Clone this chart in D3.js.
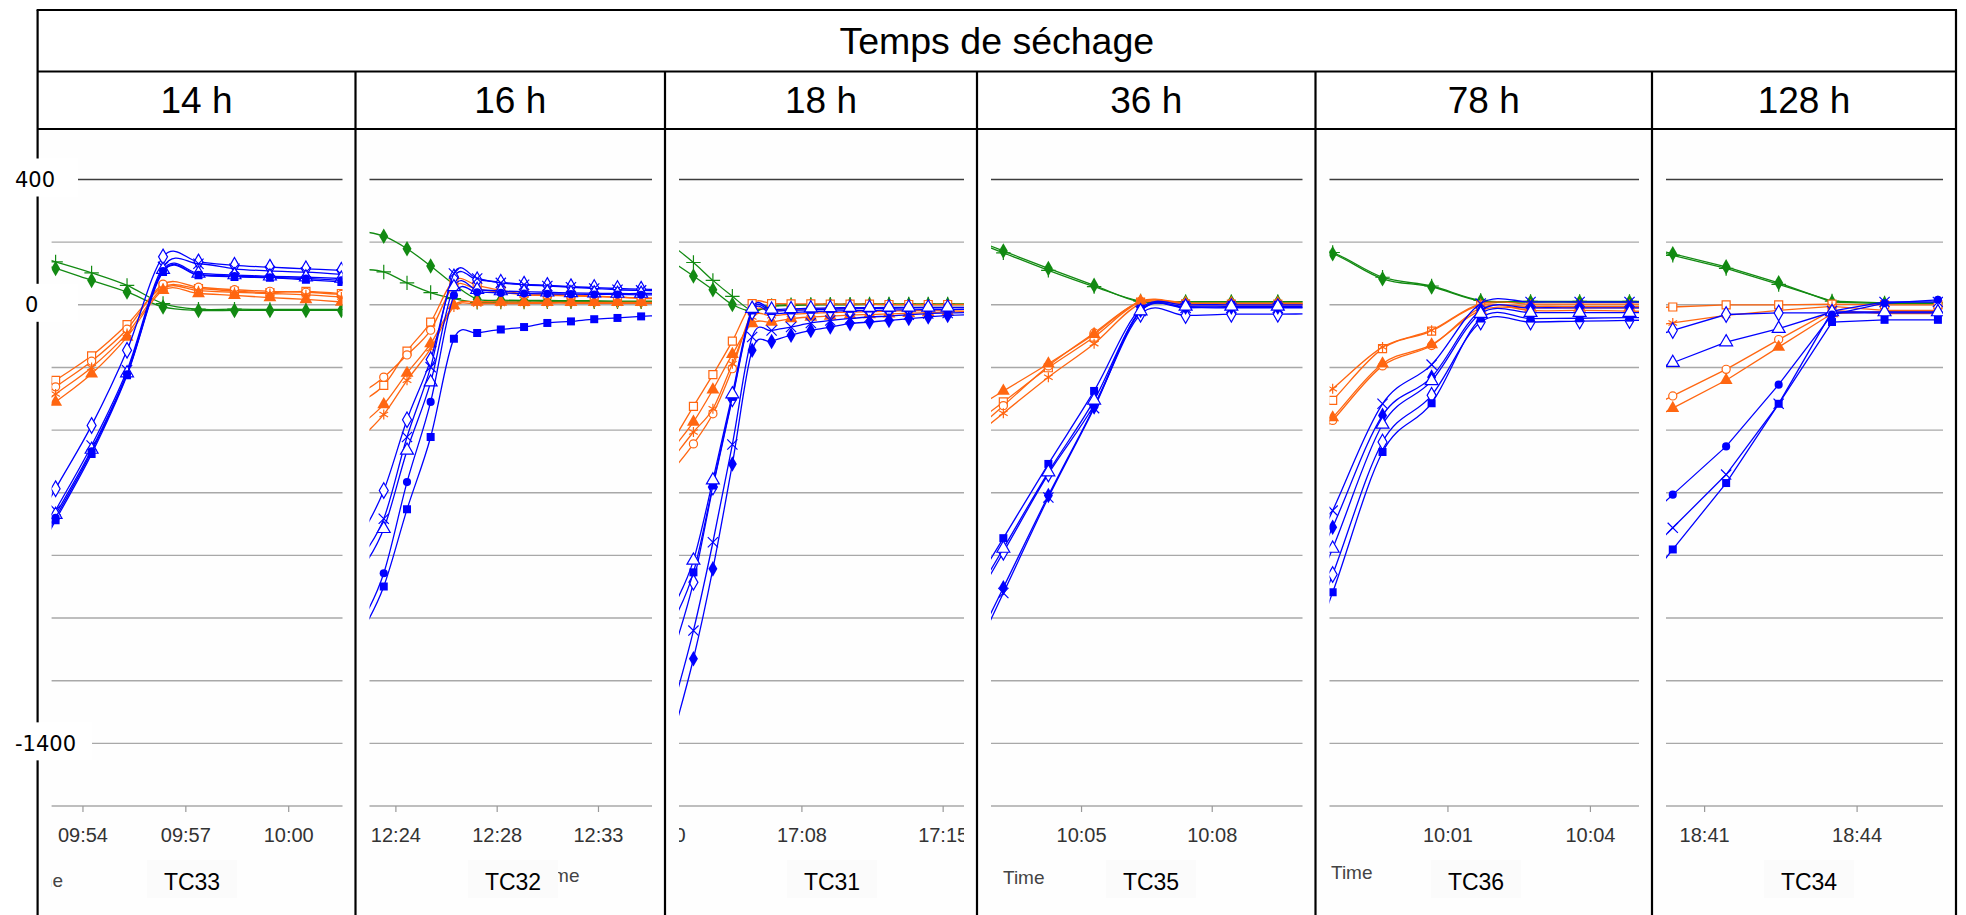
<!DOCTYPE html>
<html>
<head>
<meta charset="utf-8">
<script src="https://cdn.jsdelivr.net/npm/d3@7"></script>
<style>
  body { margin: 0; background: #fff; }
  svg { display: block; }
</style>
</head>
<body>
<div id="chart"></div>
<script>
// ---- data ----
var chartTitle = "Temps de séchage";
var panelTitles = ["14 h", "16 h", "18 h", "36 h", "78 h", "128 h"];
var panelCodes = ["TC33", "TC32", "TC31", "TC35", "TC36", "TC34"];
var seriesKeys = ["g1", "g2", "o1", "o2", "o3", "o4", "b1", "b2", "b3", "b4", "b5", "b6"];
var gridValues = [400, 200, 0, -200, -400, -600, -800, -1000, -1200, -1400, -1600];
var yLabelValues = [400, 0, -1400];

// TC33 - 14 h
var tc33Times = ["09:52:11", "09:53:13", "09:54:16", "09:55:18", "09:56:21", "09:57:23", "09:58:26", "09:59:28", "10:00:31", "10:01:33"];
var tc33Range = ["09:53:06", "10:01:35"];
var tc33Ticks = ["09:54:00", "09:57:00", "10:00:00"];
var tc33Values = {
  g1: [150, 116, 78, 41, -7, -18, -18, -18, -18, -18],
  g2: [170, 137, 102, 62, 4, -14, -14, -15, -15, -15],
  o1: [-320, -241, -163, -63, 57, 52, 44, 39, 43, 36],
  o2: [-345, -262, -180, -78, 66, 56, 48, 43, 40, 33],
  o4: [-370, -285, -200, -92, 52, 45, 40, 36, 32, 25],
  o3: [-395, -310, -220, -103, 46, 36, 30, 23, 17, 9],
  b1: [-790, -587, -385, -145, 153, 137, 126, 120, 115, 110],
  b4: [-860, -656, -449, -209, 121, 131, 115, 108, 104, 97],
  b5: [-880, -670, -462, -218, 112, 100, 95, 91, 88, 84],
  b6: [-890, -680, -468, -222, 108, 96, 92, 88, 84, 78],
  b2: [-900, -688, -476, -225, 105, 94, 89, 86, 80, 73]
};

// TC32 - 16 h
var tc32Times = ["12:22:27", "12:23:29", "12:24:31", "12:25:34", "12:26:36", "12:27:38", "12:28:41", "12:29:43", "12:30:45", "12:31:48", "12:32:50", "12:33:52", "12:34:55", "12:35:57"];
var tc32Range = ["12:22:51", "12:35:24"];
var tc32Ticks = ["12:24:00", "12:28:30", "12:33:00"];
var tc32Values = {
  g1: [235, 219, 179, 124, 65, 18, 15, 14, 14, 13, 13, 12, 12, 12],
  g2: [113, 105, 70, 39, 20, 8, 9, 9, 10, 10, 10, 10, 10, 10],
  o1: [-310, -257, -148, -55, 78, 62, 46, 36, 34, 31, 28, 25, 20, 20],
  o2: [-284, -231, -160, -81, 60, 50, 40, 32, 30, 28, 26, 24, 22, 22],
  o3: [-384, -318, -218, -124, -2, 9, 9, 8, 8, 8, 8, 8, 8, 8],
  o4: [-426, -350, -241, -140, -7, 3, 4, 4, 5, 5, 5, 5, 5, 5],
  b1: [-740, -593, -367, -175, 89, 80, 72, 66, 62, 58, 55, 52, 50, 49],
  b4: [-810, -683, -422, -199, 100, 84, 70, 64, 60, 56, 52, 48, 46, 45],
  b5: [-850, -715, -465, -247, 57, 48, 44, 42, 40, 38, 37, 36, 36, 36],
  b6: [-1020, -857, -566, -310, 30, 40, 38, 36, 35, 34, 33, 33, 32, 32],
  b2: [-1052, -899, -653, -422, -108, -90, -79, -71, -58, -53, -46, -42, -37, -33]
};

// TC31 - 18 h
var tc31Times = ["17:01:14", "17:02:16", "17:03:18", "17:04:20", "17:05:23", "17:06:25", "17:07:27", "17:08:30", "17:09:32", "17:10:35", "17:11:37", "17:12:39", "17:13:42", "17:14:44", "17:15:46", "17:16:48"];
var tc31Range = ["17:01:30", "17:16:38"];
var tc31Ticks = ["17:00:30", "17:08:00", "17:15:30"];
var tc31Values = {
  g2: [185, 135, 78, 27, -18, -3, 0, 1, 2, 2, 3, 3, 3, 3, 3, 3],
  g1: [134, 92, 48, 1, -20, -5, -2, -1, 0, 0, 1, 1, 1, 1, 1, 1],
  o1: [-429, -324, -223, -116, 4, 4, 3, 3, 2, 2, 2, 1, 1, 1, 1, 1],
  o3: [-454, -374, -271, -158, -60, -55, -44, -39, -36, -33, -31, -29, -27, -25, -23, -22],
  o4: [-486, -406, -332, -188, -39, -35, -30, -27, -25, -23, -22, -20, -19, -18, -17, -16],
  o2: [-523, -444, -348, -204, -25, -20, -16, -13, -12, -11, -10, -9, -9, -8, -8, -8],
  b5: [-960, -816, -560, -285, -12, -15, -13, -11, -10, -9, -9, -8, -8, -8, -8, -8],
  b2: [-1005, -854, -577, -294, -18, -20, -18, -16, -14, -13, -12, -11, -10, -10, -9, -9],
  b1: [-1100, -886, -582, -300, -23, -28, -25, -22, -20, -19, -18, -17, -16, -15, -15, -14],
  b4: [-1272, -1040, -758, -446, -103, -82, -71, -58, -50, -44, -39, -36, -32, -28, -26, -25],
  b3: [-1363, -1130, -843, -508, -145, -117, -97, -82, -71, -60, -55, -50, -44, -39, -34, -32]
};

// TC35 - 36 h
var tc35Times = ["10:02:11", "10:03:13", "10:04:15", "10:05:18", "10:06:22", "10:07:24", "10:08:27", "10:09:31", "10:10:33"];
var tc35Range = ["10:02:56", "10:10:05"];
var tc35Ticks = ["10:05:00", "10:08:00"];
var tc35Values = {
  g1: [228, 172, 116, 62, 9, 9, 9, 9, 9],
  g2: [222, 166, 110, 58, 12, 10, 10, 10, 10],
  o3: [-362, -275, -188, -94, 12, 6, 5, 5, 5],
  o1: [-419, -310, -201, -103, 9, 3, 2, 2, 2],
  o2: [-449, -322, -195, -90, 10, 4, 4, 4, 4],
  o4: [-461, -346, -231, -124, 4, 0, 0, 0, 0],
  b2: [-982, -745, -508, -275, -12, 0, 0, 0, 0],
  b5: [-1022, -778, -534, -305, -20, -5, -5, -5, -5],
  b1: [-1040, -790, -540, -320, -30, -34, -30, -30, -28],
  b3: [-1197, -903, -609, -326, -18, -8, -8, -8, -8],
  b4: [-1225, -920, -615, -330, -20, -10, -10, -10, -10]
};

// TC36 - 78 h
var tc36Times = ["09:57:33", "09:58:35", "09:59:38", "10:00:40", "10:01:42", "10:02:45", "10:03:47", "10:04:50", "10:05:52"];
var tc36Range = ["09:58:31", "10:05:02"];
var tc36Ticks = ["10:01:00", "10:04:00"];
var tc36Values = {
  g1: [200, 163, 83, 57, 12, 9, 9, 9, 9],
  g2: [205, 167, 88, 60, 14, 11, 11, 11, 11],
  o4: [-400, -268, -135, -81, 4, 2, 2, 2, 2],
  o1: [-470, -305, -140, -84, 0, -18, -18, -20, -23],
  o3: [-530, -360, -188, -127, -18, -10, -10, -10, -10],
  o2: [-540, -369, -195, -130, -10, -5, -5, -5, -5],
  b4: [-990, -657, -316, -191, 4, 9, 9, 9, 9],
  b3: [-1050, -710, -353, -231, -18, -10, -10, -10, -10],
  b5: [-1140, -778, -382, -243, -28, -25, -25, -25, -25],
  b1: [-1270, -861, -438, -289, -55, -55, -52, -50, -46],
  b2: [-1340, -918, -470, -314, -44, -44, -43, -41, -41]
};

// TC34 - 128 h
var tc34Times = ["18:39:20", "18:40:23", "18:41:26", "18:42:28", "18:43:31", "18:44:33", "18:45:36"];
var tc34Range = ["18:40:15", "18:45:42"];
var tc34Ticks = ["18:41:00", "18:44:00"];
var tc34Values = {
  g1: [205, 163, 121, 70, 9, 4, 4],
  g2: [200, 158, 116, 65, 12, 6, 6],
  o1: [-14, -7, 0, 0, 2, 0, 0],
  o4: [-82, -58, -34, -18, -5, -18, -18],
  o2: [-376, -291, -206, -111, -18, -28, -28],
  o3: [-419, -330, -241, -135, -28, -22, -22],
  b1: [-133, -82, -31, -26, -26, -26, -26],
  b5: [-251, -185, -119, -76, -23, -23, -23],
  b6: [-760, -606, -452, -255, -31, 5, 16],
  b4: [-882, -712, -542, -316, -20, 9, 9],
  b2: [-993, -781, -569, -316, -55, -48, -48]
};

// ---- layout ----
var W = 1966, H = 915;
var colEdges = [37.6, 355.5, 665, 977, 1315.5, 1652, 1956];
var topY = 10, titleBottom = 71.5, headBottom = 129;
var codeX = [192, 513, 832, 1151, 1476, 1809];
// where the leftover "Time" axis title shows in each pasted panel (null = hidden)
var timeLabelPos = [{x: 63, y: 887, anchor: "end"}, {x: 538, y: 882, anchor: "start"}, null,
                    {x: 1003, y: 884, anchor: "start"}, {x: 1331, y: 879, anchor: "start"}, null];

var green = "#128a12", orange = "#ff6611", blue = "#0000ff";
var seriesStyle = {
  g1: {color: green, shape: "diamond", mode: "fill"},
  g2: {color: green, shape: "plus", mode: "stroke"},
  o1: {color: orange, shape: "square", mode: "open"},
  o2: {color: orange, shape: "circle", mode: "open"},
  o3: {color: orange, shape: "triangle", mode: "fill"},
  o4: {color: orange, shape: "asterisk", mode: "stroke"},
  b1: {color: blue, shape: "diamond", mode: "open"},
  b2: {color: blue, shape: "square", mode: "fill"},
  b3: {color: blue, shape: "diamond", mode: "fill"},
  b4: {color: blue, shape: "times", mode: "stroke"},
  b5: {color: blue, shape: "triangle", mode: "open"},
  b6: {color: blue, shape: "circle", mode: "fill"}
};
var symbolTypes = {
  diamond: d3.symbolDiamond,
  square: d3.symbolSquare,
  circle: d3.symbolCircle,
  triangle: d3.symbolTriangle,
  plus: d3.symbolPlus || d3.symbolCross,
  asterisk: d3.symbolAsterisk || d3.symbolStar,
  times: d3.symbolTimes || d3.symbolCross
};
var symbolSizes = {diamond: 70, square: 64, circle: 52, triangle: 72, plus: 70, asterisk: 70, times: 70};
var smooth = d3.curveCardinal.tension(0);

var panels = [
  {times: tc33Times, range: tc33Range, ticks: tc33Ticks, values: tc33Values, curve: smooth},
  {times: tc32Times, range: tc32Range, ticks: tc32Ticks, values: tc32Values, curve: smooth},
  {times: tc31Times, range: tc31Range, ticks: tc31Ticks, values: tc31Values, curve: smooth},
  {times: tc35Times, range: tc35Range, ticks: tc35Ticks, values: tc35Values, curve: smooth},
  {times: tc36Times, range: tc36Range, ticks: tc36Ticks, values: tc36Values, curve: smooth},
  {times: tc34Times, range: tc34Range, ticks: tc34Ticks, values: tc34Values, curve: d3.curveLinear}
];

var parseT = d3.timeParse("%H:%M:%S");
var fmtT = d3.timeFormat("%H:%M");
var sansFont = "'Liberation Sans', Arial, Helvetica, sans-serif";

var svg = d3.select("#chart").append("svg").attr("width", W).attr("height", H);
svg.append("rect").attr("width", W).attr("height", H).attr("fill", "#fff");
var defs = svg.append("defs");

var y = d3.scaleLinear().domain([-1600, 400]).range([806, 179.5]);

panels.forEach(function(p, i) {
  var left = colEdges[i], right = colEdges[i + 1];
  var x0 = left + 14, x1 = right - 13;
  var x = d3.scaleTime().domain(p.range.map(parseT)).range([x0, x1]);
  var g = svg.append("g");

  g.append("rect").attr("x", left).attr("y", headBottom).attr("width", right - left)
    .attr("height", H - headBottom).attr("fill", "#fefefe");

  // grid
  g.selectAll("line.grid").data(gridValues).join("line").attr("class", "grid")
    .attr("x1", x0).attr("x2", x1)
    .attr("y1", function(d) { return y(d); }).attr("y2", function(d) { return y(d); })
    .attr("stroke", function(d) { return d === 400 ? "#3c3c3c" : "#a8a8a8"; })
    .attr("stroke-width", 1.4);

  var clipId = "clip" + i;
  defs.append("clipPath").attr("id", clipId).append("rect")
    .attr("x", x0).attr("y", headBottom).attr("width", x1 - x0).attr("height", H - headBottom);

  // time axis
  var axWrap = g.append("g").attr("clip-path", "url(#" + clipId + ")");
  var ax = axWrap.append("g").attr("transform", "translate(0," + y(-1600) + ")")
    .call(d3.axisBottom(x).tickValues(p.ticks.map(parseT)).tickFormat(fmtT).tickSize(6).tickPadding(16));
  ax.select(".domain").remove();
  ax.selectAll(".tick line").attr("stroke", "#999").attr("stroke-width", 1.2);
  ax.selectAll(".tick text").attr("fill", "#333")
    .style("font-family", sansFont).style("font-size", "20px");

  // leftover axis title
  var tl = timeLabelPos[i];
  if (tl) {
    axWrap.append("text").attr("x", tl.x).attr("y", tl.y).attr("text-anchor", tl.anchor)
      .attr("fill", "#444").style("font-family", sansFont).style("font-size", "19px").text("Time");
  }

  // series
  var plot = g.append("g").attr("clip-path", "url(#" + clipId + ")");
  var line = d3.line().x(function(d) { return x(d.t); }).y(function(d) { return y(d.v); }).curve(p.curve);
  var domain = x.domain();
  seriesKeys.forEach(function(k) {
    var vals = p.values[k];
    if (!vals) return;
    var st = seriesStyle[k];
    var pts = p.times.map(function(t, j) { return {t: parseT(t), v: vals[j]}; });
    plot.append("path").attr("d", line(pts)).attr("fill", "none")
      .attr("stroke", st.color).attr("stroke-width", 1.3);
    var sym = d3.symbol().type(symbolTypes[st.shape]).size(symbolSizes[st.shape]);
    plot.selectAll(null).data(pts.filter(function(d) { return d.t >= domain[0] && d.t <= domain[1]; }))
      .join("path")
      .attr("transform", function(d) { return "translate(" + x(d.t) + "," + y(d.v) + ")"; })
      .attr("d", sym())
      .attr("fill", st.mode === "fill" ? st.color : st.mode === "open" ? "#fff" : "none")
      .attr("stroke", st.mode === "fill" ? "none" : st.color)
      .attr("stroke-width", 1.2);
  });

  // test code label
  g.append("rect").attr("x", codeX[i] - 45).attr("y", 860).attr("width", 90).attr("height", 38)
    .attr("fill", "#fbfbfb");
  g.append("text").attr("x", codeX[i]).attr("y", 890).attr("text-anchor", "middle")
    .attr("fill", "#000").style("font-family", sansFont).style("font-size", "23px")
    .text(panelCodes[i]);

  // column header
  svg.append("text").attr("x", (left + right) / 2).attr("y", 113).attr("text-anchor", "middle")
    .attr("fill", "#000").style("font-family", sansFont).style("font-size", "37px")
    .text(panelTitles[i]);
});

// table frame
var frame = svg.append("g").attr("stroke", "#000").attr("stroke-width", 2.2);
var L = colEdges[0], R = colEdges[colEdges.length - 1];
frame.append("line").attr("x1", L - 1).attr("x2", R + 1).attr("y1", topY).attr("y2", topY);
frame.append("line").attr("x1", L).attr("x2", R).attr("y1", titleBottom).attr("y2", titleBottom);
frame.append("line").attr("x1", L).attr("x2", R).attr("y1", headBottom).attr("y2", headBottom);
frame.append("line").attr("x1", L).attr("x2", L).attr("y1", topY).attr("y2", H);
frame.append("line").attr("x1", R).attr("x2", R).attr("y1", topY).attr("y2", H);
frame.selectAll("line.div").data(colEdges.slice(1, -1)).join("line").attr("class", "div")
  .attr("x1", function(d) { return d; }).attr("x2", function(d) { return d; })
  .attr("y1", titleBottom).attr("y2", H);

svg.append("text").attr("x", (L + R) / 2).attr("y", 54).attr("text-anchor", "middle")
  .attr("fill", "#000").style("font-family", sansFont).style("font-size", "37.5px")
  .text(chartTitle);

// value labels of the first panel sit over the frame
var yl = svg.append("g");
yLabelValues.forEach(function(v) {
  var t = yl.append("text").attr("x", v === 0 ? 25 : 15).attr("y", y(v) + 7.5)
    .attr("fill", "#000").style("font-family", "'DejaVu Sans', Verdana, sans-serif")
    .style("font-size", "21px").text(v);
  var bb = t.node().getBBox();
  yl.insert("rect", "text").attr("x", 12).attr("y", y(v) - 21)
    .attr("width", Math.max(bb.x + bb.width + 16, 78) - 12).attr("height", 38).attr("fill", "#fff");
});
</script>
</body>
</html>
